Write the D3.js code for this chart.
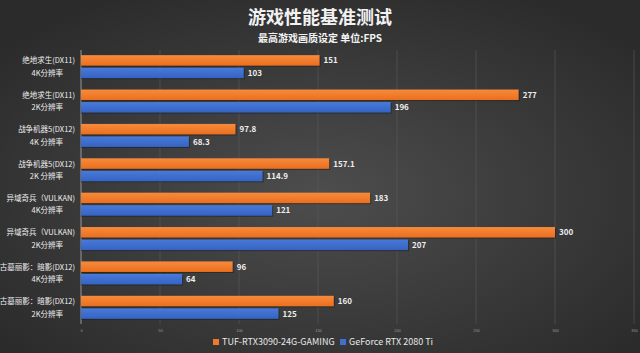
<!DOCTYPE html>
<html>
<head>
<meta charset="utf-8">
<script src="https://cdn.jsdelivr.net/npm/d3@7"></script>
<style>
  body { margin: 0; background: #333; }
  svg { display: block; font-family: "Noto Sans CJK SC", "Noto Sans", sans-serif; }
</style>
</head>
<body>
<svg id="chart" width="640" height="353"></svg>
<script>
// DATA
const games = ["绝地求生(DX11)", "绝地求生(DX11)", "战争机器5(DX12)", "战争机器5(DX12)",
  "异域奇兵（VULKAN)", "异域奇兵（VULKAN)", "古墓丽影：暗影(DX12)", "古墓丽影：暗影(DX12)"];
const resolutions = ["4K分辨率", "2K分辨率", "4K 分辨率", "2K 分辨率", "4K分辨率", "2K分辨率", "4K分辨率", "2K分辨率"];
const seriesNames = ["TUF-RTX3090-24G-GAMING", "GeForce RTX 2080 Ti"];
const tufValues = [151, 277, 97.8, 157.1, 183, 300, 96, 160];
const rtx2080Values = [103, 196, 68.3, 114.9, 121, 207, 64, 125];
const xTicks = [0, 50, 100, 150, 200, 250, 300, 350];

const width = 640, height = 353;
const margin = {top: 50, right: 6, bottom: 29, left: 81};

const svg = d3.select("#chart");

// BACKGROUND
const defs = svg.append("defs");
const bg = defs.append("radialGradient").attr("id", "bg")
  .attr("cx", "50%").attr("cy", "55%").attr("r", "65%");
bg.append("stop").attr("offset", "0%").attr("stop-color", "#4d4d4d");
bg.append("stop").attr("offset", "100%").attr("stop-color", "#2b2b2b");

const orangeGrad = defs.append("linearGradient").attr("id", "og").attr("x1", 0).attr("x2", 0).attr("y1", 0).attr("y2", 1);
orangeGrad.append("stop").attr("offset", "0%").attr("stop-color", "#f88a3c");
orangeGrad.append("stop").attr("offset", "100%").attr("stop-color", "#ea6f1e");
const blueGrad = defs.append("linearGradient").attr("id", "bg2").attr("x1", 0).attr("x2", 0).attr("y1", 0).attr("y2", 1);
blueGrad.append("stop").attr("offset", "0%").attr("stop-color", "#4a7ad8");
blueGrad.append("stop").attr("offset", "100%").attr("stop-color", "#3463c4");

svg.append("rect").attr("width", width).attr("height", height).attr("fill", "url(#bg)");

// TITLES
svg.append("text")
  .attr("x", 320).attr("y", 24)
  .attr("text-anchor", "middle")
  .attr("fill", "#f2f2f2")
  .attr("font-size", 18).attr("font-weight", "bold")
  .text("游戏性能基准测试");

svg.append("text")
  .attr("x", 320).attr("y", 42)
  .attr("text-anchor", "middle")
  .attr("fill", "#f2f2f2")
  .attr("font-size", 10).attr("font-weight", "bold")
  .text("最高游戏画质设定 单位:FPS");

// SCALES
const xScale = d3.scaleLinear()
  .domain([0, 350])
  .range([margin.left, width - margin.right]);

const yScale = d3.scaleBand()
  .domain(d3.range(games.length))
  .range([margin.top, height - margin.bottom])
  .paddingInner(0.33)
  .paddingOuter(0.15);

const subScale = d3.scaleBand()
  .domain([0, 1])
  .range([0, yScale.bandwidth()])
  .paddingInner(0.16);

// GRID
svg.append("g").selectAll("line")
  .data(xTicks.slice(1))
  .join("line")
  .attr("x1", d => xScale(d)).attr("x2", d => xScale(d))
  .attr("y1", margin.top).attr("y2", height - margin.bottom)
  .attr("stroke", "#5a5a5a").attr("stroke-width", 0.6);

// AXES
const xAxis = svg.append("g")
  .attr("transform", `translate(0, ${height - margin.bottom + 1})`)
  .call(d3.axisBottom(xScale).tickValues(xTicks).tickSize(0).tickPadding(4));
xAxis.select(".domain").remove();
xAxis.selectAll("text").attr("fill", "#9a9a9a").attr("font-size", 4);

svg.append("line")
  .attr("x1", margin.left).attr("x2", margin.left)
  .attr("y1", margin.top).attr("y2", height - margin.bottom)
  .attr("stroke", "#999").attr("stroke-width", 1);

// CATEGORY LABELS
const labels = svg.append("g").selectAll("g")
  .data(games)
  .join("g")
  .attr("transform", (d, i) => `translate(75, ${yScale(i)})`);

labels.append("text")
  .attr("y", subScale(0) + subScale.bandwidth() / 2 + 3)
  .attr("text-anchor", "end")
  .attr("fill", "#eeeeee")
  .attr("font-size", 7.5)
  .text(d => d);

labels.append("text")
  .attr("x", -12)
  .attr("y", subScale(1) + subScale.bandwidth() / 2 + 3)
  .attr("text-anchor", "end")
  .attr("fill", "#eeeeee")
  .attr("font-size", 7.5)
  .text((d, i) => resolutions[i]);

// BARS
const series = [
  {name: seriesNames[0], values: tufValues, fill: "url(#og)"},
  {name: seriesNames[1], values: rtx2080Values, fill: "url(#bg2)"}
];

series.forEach((s, si) => {
  const g = svg.append("g");
  g.selectAll("rect.shadow")
    .data(s.values)
    .join("rect")
    .attr("class", "shadow")
    .attr("x", xScale(0))
    .attr("y", (d, i) => yScale(i) + subScale(si) + 1)
    .attr("width", d => xScale(d) - xScale(0) + 1)
    .attr("height", subScale.bandwidth())
    .attr("fill", "#1e1e1e").attr("opacity", 0.6);

  g.selectAll("rect.bar")
    .data(s.values)
    .join("rect")
    .attr("class", "bar")
    .attr("x", xScale(0))
    .attr("y", (d, i) => yScale(i) + subScale(si))
    .attr("width", d => xScale(d) - xScale(0))
    .attr("height", subScale.bandwidth())
    .attr("fill", s.fill);

  g.selectAll("text")
    .data(s.values)
    .join("text")
    .attr("x", d => xScale(d) + 4)
    .attr("y", (d, i) => yScale(i) + subScale(si) + subScale.bandwidth() / 2 + 3)
    .attr("fill", "#eeeeee")
    .attr("font-size", 8).attr("font-weight", "bold")
    .text(d => String(d));
});

// LEGEND
const legendX = [213, 340];
const legend = svg.append("g").selectAll("g")
  .data(series)
  .join("g")
  .attr("transform", (d, i) => `translate(${legendX[i]}, 345)`);

legend.append("rect")
  .attr("x", 0).attr("y", -6)
  .attr("width", 6).attr("height", 6)
  .attr("fill", (d, i) => i === 0 ? "#f07a2a" : "#3f6fd0");

legend.append("text")
  .attr("x", 9).attr("y", 0)
  .attr("fill", "#e8e8e8")
  .attr("font-size", 9)
  .text(d => d.name);
</script>
</body>
</html>
